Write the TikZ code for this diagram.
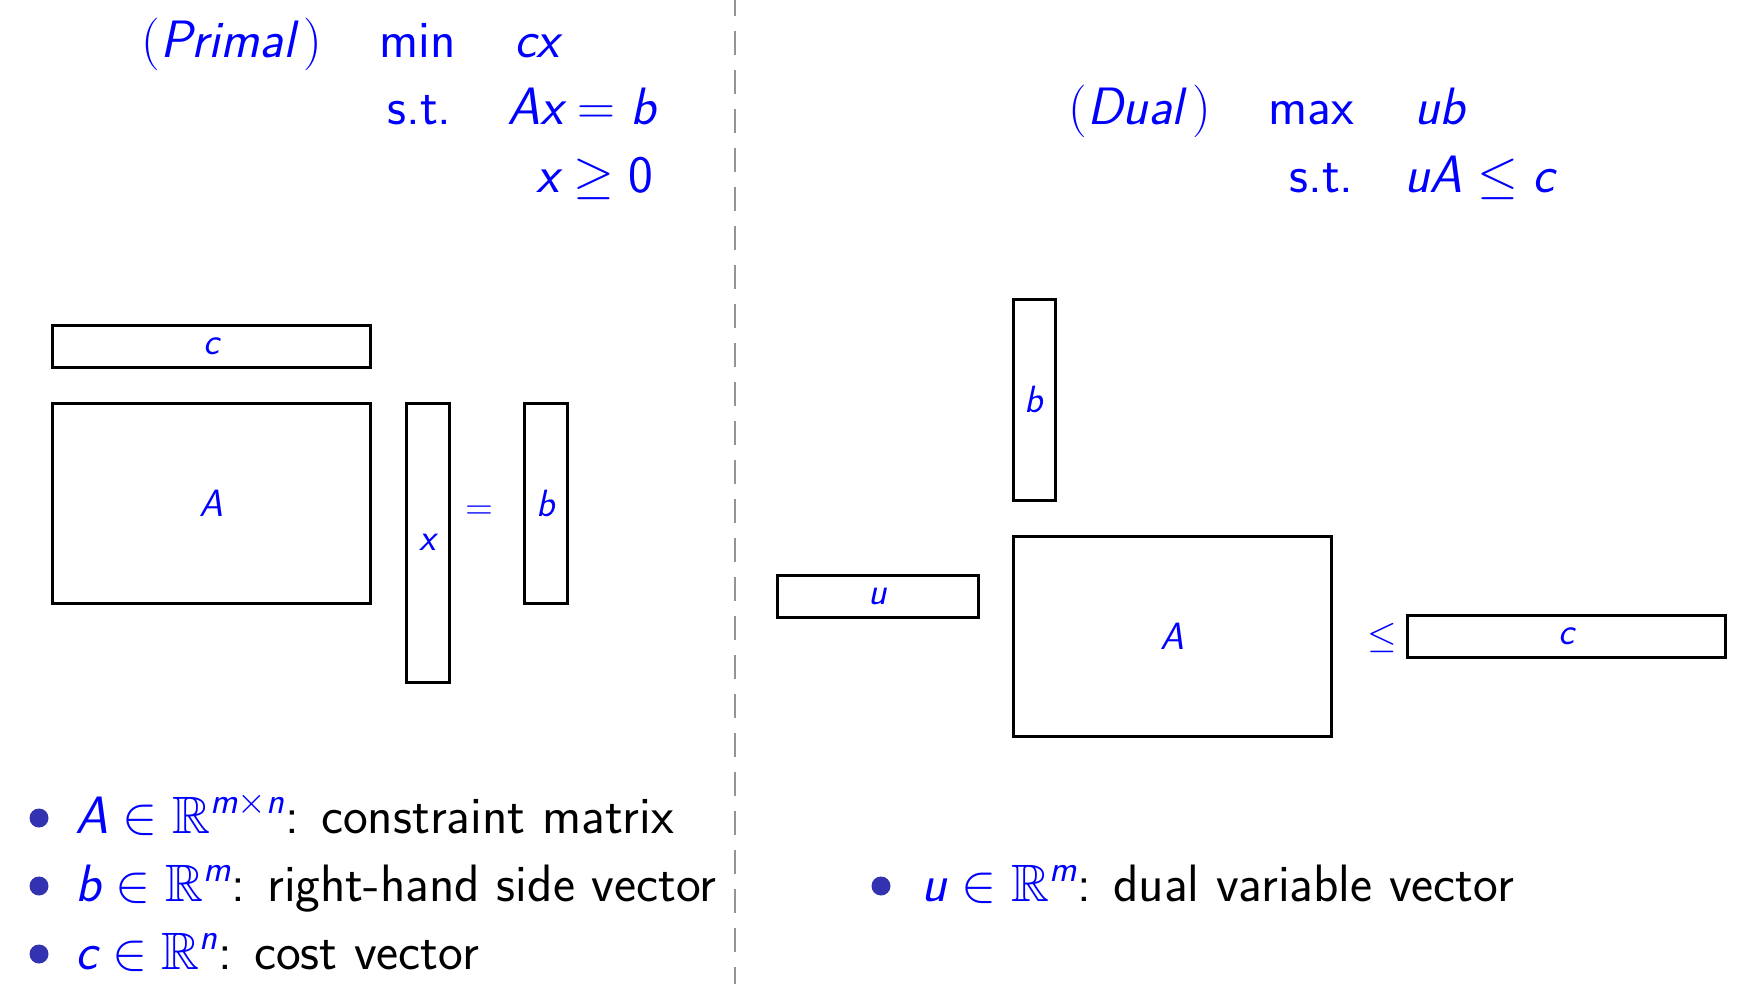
\RequirePackage{fix-cm}
\documentclass[tikz,border=0pt]{standalone}
\usepackage{amsmath,amssymb}
\usepackage{fontspec}
\renewcommand\familydefault{\sfdefault}
\definecolor{bulletblue}{rgb}{0.2,0.2,0.7}
\newcommand\mv[1]{\textit{#1}}
\tikzset{
  x=0.5pt,y=-0.5pt,
  txt/.style={inner sep=0pt,anchor=base west,text=blue,font=\fontsize{26.3}{32}\selectfont},
  blk/.style={inner sep=0pt,anchor=base west,text=black,font=\fontsize{26.3}{32}\selectfont},
  mat/.style={draw=black,line width=1.5pt,inner sep=0pt,text=blue,font=\fontsize{19}{23}\selectfont},
  rel/.style={inner sep=0pt,text=blue,font=\fontsize{19}{23}\selectfont},
  bul/.style={circle,fill=bulletblue,inner sep=0pt,minimum size=9.5pt},
  sepline/.style={draw=black!42,line width=0.8pt,dash pattern=on 12pt off 7.5pt,dash phase=4pt}
}
\begin{document}
\begin{tikzpicture}
\useasboundingbox (0,0) rectangle (1738,984);
% separator
\coordinate (s1) at (735,0);
\coordinate (s2) at (735,984);
\draw[sepline] (s1) -- (s2);
% primal
\node[txt] (primal) at (141,58) {$(\mv{Primal}\,)$};
\node[txt] (min) at (379,58) {min};
\node[txt] (cx) at (514,58) {$\mv{cx}$};
\node[txt] (st1) at (387,125) {s.t.};
\node[txt,anchor=base east] (axb) at (656,125) {$\mv{A}\mv{x}=\mv{b}$};
\node[txt,anchor=base east] (xge) at (654,193) {$\mv{x}\geq \textup{0}$};
% dual
\node[txt] (dual) at (1068,125) {$(\mv{Dual}\,)$};
\node[txt] (max) at (1268,125) {max};
\node[txt] (ub) at (1414,125) {$\mv{ub}$};
\node[txt] (st2) at (1289,193) {s.t.};
\node[txt,anchor=base east] (uac) at (1555,193) {$\mv{u}\mv{A}\leq \mv{c}$};
% primal matrices
\node[mat,minimum width=159pt,minimum height=21pt] (cL) at (211,346) {$\mv{c}$};
\node[mat,minimum width=159pt,minimum height=100pt] (AL) at (211,503) {$\mv{A}$};
\node[mat,minimum width=21.5pt,minimum height=139.5pt] (xL) at (427.5,542.5) {$\mv{x}$};
\node[rel] (eqL) at (479,513) {$=$};
\node[mat,minimum width=21.5pt,minimum height=100pt] (bL) at (546,503) {$\mv{b}$};
% dual matrices
\node[mat,minimum width=21pt,minimum height=100.5pt] (bR) at (1034,399.5) {$\mv{b}$};
\node[mat,minimum width=100.5pt,minimum height=21pt] (uR) at (877.5,596) {$\mv{u}$};
\node[mat,minimum width=159pt,minimum height=100pt] (AR) at (1172,636) {$\mv{A}$};
\node[rel] (leR) at (1382,638) {$\leq$};
\node[mat,minimum width=159pt,minimum height=21pt] (cR) at (1566,636) {$\mv{c}$};
% bullets
\node[bul] (b1) at (39,818) {};
\node[bul] (b2) at (39,886) {};
\node[bul] (b3) at (39,954) {};
\node[bul] (b4) at (881,886) {};
\node[blk] (t1) at (75,833) {\textcolor{blue}{$\mv{A}\in\mathbb{R}^{\mv{m}\times\mv{n}}$}: constraint matrix};
\node[blk] (t2) at (75,901) {\textcolor{blue}{$\mv{b}\in\mathbb{R}^{\mv{m}}$}: right-hand side vector};
\node[blk] (t3) at (75,969) {\textcolor{blue}{$\mv{c}\in\mathbb{R}^{\mv{n}}$}: cost vector};
\node[blk] (t4) at (921,901) {\textcolor{blue}{$\mv{u}\in\mathbb{R}^{\mv{m}}$}: dual variable vector};
\end{tikzpicture}
\end{document}
